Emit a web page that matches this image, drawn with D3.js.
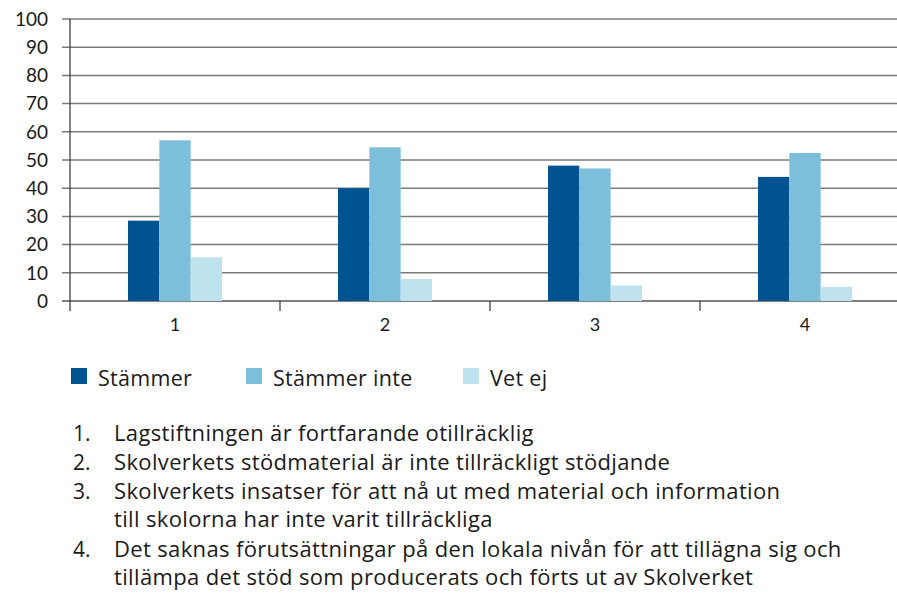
<!DOCTYPE html>
<html><head><meta charset="utf-8">
<script src="https://cdn.jsdelivr.net/npm/d3@7"></script>
<style>
body{margin:0;background:#fff;}
svg{display:block;font-family:"Open Sans",Lato,sans-serif;}
</style></head>
<body><svg id="c" width="897" height="597"></svg>
<script>
const categories = ["1","2","3","4"];
const seriesNames = ["Stämmer","Stämmer inte","Vet ej"];
const stammer = [28.5, 40, 48, 44];
const stammerInte = [57, 54.5, 47, 52.5];
const vetEj = [15.5, 7.8, 5.5, 5];
const yTicks = [0,10,20,30,40,50,60,70,80,90,100];
const colors = ["#005391","#7dbfda","#bee2ee"];
const notes = [
  ["1.", "Lagstiftningen är fortfarande otillräcklig"],
  ["2.", "Skolverkets stödmaterial är inte tillräckligt stödjande"],
  ["3.", "Skolverkets insatser för att nå ut med material och information"],
  ["", "till skolorna har inte varit tillräckliga"],
  ["4.", "Det saknas förutsättningar på den lokala nivån för att tillägna sig och"],
  ["", "tillämpa det stöd som producerats och förts ut av Skolverket"]
];

const series = [stammer, stammerInte, vetEj];
const svg = d3.select("#c");
const x0 = d3.scaleBand().domain(categories).range([70, 910]).paddingInner(0).paddingOuter(0);
const x1 = d3.scaleBand().domain(d3.range(3)).range([0, 94]);
const y = d3.scaleLinear().domain([0,100]).range([301, 19]);

// gridlines
svg.append("g").selectAll("line").data(yTicks).join("line")
  .attr("x1", 62).attr("x2", 897)
  .attr("y1", d => y(d)).attr("y2", d => y(d))
  .attr("stroke", d => d === 0 ? "#555" : "#7a7a7a").attr("stroke-width", 1.5);

// y axis line
svg.append("line").attr("x1",70).attr("x2",70).attr("y1",y(100)).attr("y2",311)
  .attr("stroke","#333").attr("stroke-width",1.2);

// y labels
svg.append("g").selectAll("text").data(yTicks).join("text")
  .attr("x", 48).attr("y", d => y(d)).attr("dy","0.36em")
  .attr("text-anchor","end").attr("font-size",19).attr("fill","#1a1a1a")
  .style("font-family","Lato,sans-serif")
  .text(d => d);

// category ticks
const bounds = categories.map(c => x0(c)).concat([x0(categories[3]) + x0.bandwidth()]);
svg.append("g").selectAll("line").data(bounds.slice(1)).join("line")
  .attr("x1", d => d).attr("x2", d => d).attr("y1", 301).attr("y2", 311)
  .attr("stroke","#333").attr("stroke-width",1.2);

// category labels
svg.append("g").selectAll("text").data(categories).join("text")
  .attr("x", d => x0(d) + x0.bandwidth()/2).attr("y", 331)
  .attr("text-anchor","middle").attr("font-size",18).attr("fill","#1a1a1a")
  .style("font-family","Lato,sans-serif")
  .text(d => d);

// bars
const gw = 94;
categories.forEach((c, i) => {
  const gx = x0(c) + x0.bandwidth()/2 - gw/2;
  series.forEach((s, j) => {
    svg.append("rect")
      .attr("x", gx + x1(j)).attr("width", x1.bandwidth())
      .attr("y", y(s[i])).attr("height", y(0) - y(s[i]))
      .attr("fill", colors[j]);
  });
});

// legend
const legX = [71, 246, 463];
seriesNames.forEach((n, j) => {
  svg.append("rect").attr("x", legX[j]).attr("y", 368).attr("width", 16).attr("height", 16).attr("fill", colors[j]);
  svg.append("text").attr("x", legX[j] + 27).attr("y", 386).attr("font-size", 21.5)
    .attr("letter-spacing", 0.3).attr("fill","#1a1a1a").text(n);
});

// notes
const baselines = [441, 470, 499, 527, 557, 585];
notes.forEach((n, i) => {
  if (n[0]) svg.append("text").attr("x", 73).attr("y", baselines[i]).attr("font-size",21).attr("fill","#1a1a1a").text(n[0]);
  svg.append("text").attr("x", 114).attr("y", baselines[i]).attr("font-size",22)
    .attr("letter-spacing", 0.35).attr("fill","#1a1a1a").text(n[1]);
});
</script></body></html>
